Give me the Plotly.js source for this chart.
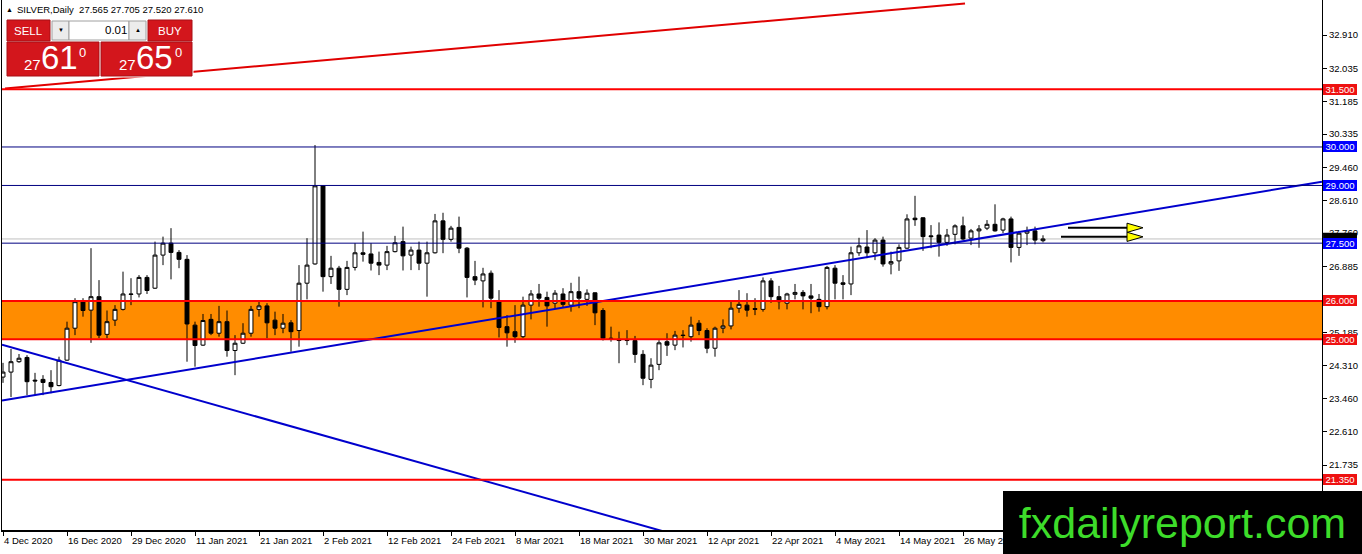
<!DOCTYPE html>
<html>
<head>
<meta charset="utf-8">
<script src="https://cdn.plot.ly/plotly-3.0.1.min.js"></script>
<style>html,body{margin:0;padding:0;background:#fff;}#chart{width:1362px;height:554px;}</style>
</head>
<body>
<div id="chart"></div>
<script>
// ---- data ----
const openP  = [24.02,24.15,24.42,24.53,23.94,23.96,23.88,23.80,24.46,25.29,26.00,25.76,26.11,25.13,25.50,25.78,26.18,26.18,26.61,26.33,27.19,27.50,27.26,27.08,25.37,24.85,25.52,25.16,25.46,24.71,24.90,25.16,25.78,25.87,25.50,25.29,25.43,25.23,26.46,26.96,28.99,26.63,26.85,26.30,26.87,27.25,27.22,27.00,26.93,27.28,27.54,27.19,27.32,26.98,27.25,28.08,27.60,27.91,27.37,26.63,26.52,26.72,26.01,25.33,25.20,25.07,25.89,26.18,26.09,25.94,26.18,25.89,26.24,26.04,26.21,25.75,25.03,25.00,24.98,24.97,24.61,23.96,24.35,24.94,24.85,25.11,25.07,25.42,25.23,24.77,25.29,25.35,25.81,25.89,25.80,25.78,26.52,26.11,25.94,26.17,26.22,26.13,26.04,25.85,26.85,26.47,26.44,27.25,27.40,27.25,27.58,26.96,27.04,27.37,28.15,28.16,27.69,27.71,27.52,27.73,27.95,27.63,27.82,27.89,27.99,27.84,28.13,27.39,27.76,27.82,27.565];
const highP  = [24.39,24.75,24.62,24.59,24.13,24.07,24.20,24.55,25.46,26.07,26.07,27.37,26.54,25.75,25.89,26.76,26.59,26.67,26.67,27.54,27.67,27.89,27.32,27.19,25.46,25.66,25.66,25.87,25.75,25.11,25.42,25.87,26.01,25.94,25.72,25.66,25.50,26.93,27.63,30.05,29.00,27.17,26.91,27.04,27.50,27.80,27.50,27.28,27.43,27.69,27.93,27.41,27.54,27.54,28.26,28.29,27.95,28.19,27.40,27.04,26.86,26.79,26.28,25.63,25.89,26.11,26.28,26.44,26.24,26.28,26.33,26.47,26.63,26.30,26.22,25.81,25.33,25.20,25.24,25.09,24.72,24.51,24.98,25.16,25.22,25.24,25.59,25.50,25.29,25.33,25.52,25.98,26.28,26.20,26.07,26.61,26.59,26.39,26.21,26.44,26.28,26.44,26.18,26.91,26.93,26.67,27.41,27.64,27.84,27.63,27.67,27.28,27.47,28.25,28.73,28.17,27.97,28.04,27.87,27.99,28.19,27.87,27.97,28.10,28.51,28.16,28.19,27.82,27.93,27.93,27.705];
const lowP   = [23.87,23.50,24.39,23.55,23.55,23.55,23.60,23.78,24.44,25.11,25.59,24.91,25.03,25.03,25.35,25.75,25.89,26.09,26.18,26.31,26.93,26.56,26.85,24.42,24.29,24.83,25.11,25.07,24.55,24.07,24.88,25.07,25.59,25.03,25.11,25.16,24.68,24.81,26.04,26.94,26.24,26.44,25.85,26.15,26.79,27.02,26.79,26.67,26.80,27.26,26.79,26.80,26.80,26.11,27.23,27.24,27.54,27.24,26.09,26.41,25.83,25.81,25.05,24.81,24.91,25.03,25.52,25.85,25.33,25.81,25.83,25.72,25.81,25.87,25.37,24.97,24.94,24.38,24.85,24.39,23.81,23.73,24.20,24.57,24.72,24.79,24.94,25.11,24.64,24.55,25.16,25.26,25.69,25.59,25.63,25.72,25.95,25.78,25.78,26.04,25.78,25.68,25.72,25.78,26.04,26.04,26.15,27.17,27.11,27.06,26.89,26.69,26.78,27.35,27.95,27.30,27.37,27.15,27.43,27.47,27.58,27.45,27.38,27.84,27.80,27.76,27.00,27.17,27.45,27.47,27.52];
const closeP = [24.15,24.42,24.51,23.90,23.92,23.88,23.77,24.46,25.29,25.98,25.75,26.11,25.11,25.46,25.78,26.18,26.17,26.61,26.27,27.19,27.50,27.26,27.08,25.40,24.84,25.49,25.16,25.46,24.71,24.90,25.16,25.78,25.87,25.43,25.29,25.42,25.20,26.46,26.93,28.99,26.63,26.85,26.30,26.87,27.25,27.21,26.98,26.93,27.28,27.51,27.17,27.32,26.98,27.25,28.08,27.60,27.89,27.37,26.61,26.54,26.70,26.07,25.31,25.17,25.07,25.89,26.18,26.07,25.87,26.20,25.91,26.24,26.07,26.20,25.69,25.03,25.02,24.97,24.97,24.61,23.99,24.33,24.91,24.85,25.11,25.10,25.37,25.23,24.77,25.29,25.35,25.81,25.91,25.76,25.78,26.52,26.11,25.98,26.18,26.22,26.13,26.07,25.85,26.87,26.46,26.43,27.25,27.43,27.25,27.58,26.96,27.02,27.39,28.13,28.11,27.67,27.67,27.52,27.71,27.95,27.61,27.82,27.87,27.99,27.82,28.13,27.39,27.76,27.82,27.58,27.61];

const dateLabels = ["4 Dec 2020","16 Dec 2020","29 Dec 2020","11 Jan 2021","21 Jan 2021","2 Feb 2021","12 Feb 2021","24 Feb 2021","8 Mar 2021","18 Mar 2021","30 Mar 2021","12 Apr 2021","22 Apr 2021","4 May 2021","14 May 2021","26 May 2021"];
const priceTicks = [32.910,32.035,31.185,30.335,29.460,28.610,27.760,26.885,25.185,24.310,23.460,22.610,21.735];

const redLevels  = [31.5, 26.0, 25.0, 21.35];
const navyLevels = [30.0, 29.0, 27.5];
const bandLow = 25.0, bandHigh = 26.0;
const bidPrice = 27.61;

const redTrendX  = [0.25, 120.25],   redTrendY  = [31.517, 33.73];
const blueUpX    = [-0.125, 164.875], blueUpY   = [23.41, 29.097];
const blueDownX  = [-0.125, 84.0],   blueDownY  = [24.86, 19.926];

const arrowTails  = [133.125, 132.25];
const arrowBases  = [140.5, 140.5];
const arrowTips   = [142.5, 142.5];
const arrowLevels = [27.90, 27.665];

const headerText = "SILVER,Daily  27.565 27.705 27.520 27.610";

// ---- geometry ----
const L = 2, W = 1320, H = 530;
const PX = x => (x - L) / W;
const PY = y => 1 - y / H;
const idx = openP.map((_, i) => i);
const tickIdx = dateLabels.map((_, k) => k * 8);
const FONT = "Liberation Sans, Arial, sans-serif";

const traces = [
  {type:'candlestick', x: idx, open: openP, high: highP, low: lowP, close: closeP,
   increasing:{line:{color:'#000', width:1}, fillcolor:'#fff'},
   decreasing:{line:{color:'#000', width:1}, fillcolor:'#000'},
   whiskerwidth:0, hoverinfo:'skip', showlegend:false},
  {type:'scatter', mode:'lines', x: redTrendX, y: redTrendY, line:{color:'#e00000', width:2}, hoverinfo:'skip'},
  {type:'scatter', mode:'lines', x: blueUpX, y: blueUpY, line:{color:'#0000cd', width:2}, hoverinfo:'skip'},
  {type:'scatter', mode:'lines', x: blueDownX, y: blueDownY, line:{color:'#0000cd', width:2}, hoverinfo:'skip'}
];

const shapes = [];
shapes.push({type:'rect', xref:'paper', yref:'y', x0:0, x1:1, y0:bandLow, y1:bandHigh, fillcolor:'#ff8c00', line:{width:0}, layer:'below'});
shapes.push({type:'line', xref:'paper', yref:'y', x0:0, x1:1, y0:bidPrice, y1:bidPrice, line:{color:'#c0c0c0', width:1}, layer:'below'});
navyLevels.forEach(v => shapes.push({type:'line', xref:'paper', yref:'y', x0:0, x1:1, y0:v, y1:v, line:{color:'#000080', width:1}}));
redLevels.forEach(v => shapes.push({type:'line', xref:'paper', yref:'y', x0:0, x1:1, y0:v, y1:v, line:{color:'#ff0000', width:2}}));
// current-price marker strip on the axis
shapes.push({type:'rect', xref:'paper', yref:'y', x0:1.0008, x1:1.0265, y0:bidPrice + 0.02, y1:bidPrice + 0.16, fillcolor:'#000', line:{width:0}, layer:'above'});
// arrows
const headHalf = 4.6 / 38.48;
arrowLevels.forEach((v, k) => {
  shapes.push({type:'line', xref:'x', yref:'y', x0:arrowTails[k], x1:arrowBases[k], y0:v, y1:v, line:{color:'#000', width:2}});
  shapes.push({type:'path', xref:'x', yref:'y',
    path:`M ${arrowBases[k]},${v+headHalf} L ${arrowTips[k]},${v} L ${arrowBases[k]},${v-headHalf} Z`,
    fillcolor:'#ffff00', line:{color:'#000', width:1}});
});
// trading panel
const red = '#d3161c';
function prect(x0,y0,x1,y1,fill,lc){shapes.push({type:'rect', xref:'paper', yref:'paper', x0:PX(x0), x1:PX(x1), y0:PY(y1), y1:PY(y0), fillcolor:fill, line:{color:lc||fill, width:1}, layer:'above'});}
prect(6,19,193,77,'#ffffff','#ffffff');
prect(7,20,50,41,red,'#a80f14');
prect(148,20,192,41,red,'#a80f14');
prect(52,21,69,40,'#ececec','#a0a0a0');
prect(69,21,129,40,'#ffffff','#a0a0a0');
prect(129,21,146,40,'#ececec','#a0a0a0');
prect(7,42,99,76,red,'#a80f14');
prect(101,42,192,76,red,'#a80f14');

const ann = [];
function txt(x,y,t,size,color,xa,ya,extra){ann.push(Object.assign({xref:'paper', yref:'paper', x:PX(x), y:PY(y), text:t, showarrow:false, xanchor:xa||'left', yanchor:ya||'middle', font:{family:FONT, size:size, color:color}, borderpad:0, borderwidth:0}, extra||{}));}
txt(6,10,'▲',7,'#000');
txt(17,10,headerText,9.5,'#000');
txt(28.5,31,'SELL',11.5,'#fff','center');
txt(170,31,'BUY',11.5,'#fff','center');
txt(60.5,30,'▼',6,'#000','center');
txt(137.5,30,'▲',6,'#000','center');
txt(127,30,'0.01',11.5,'#000','right');
txt(24,73,'27',15,'#fff','left','bottom');
txt(41,76,'61',33,'#fff','left','bottom');
txt(79,53,'0',13,'#fff','left');
txt(119,73,'27',15,'#fff','left','bottom');
txt(136,76,'65',33,'#fff','left','bottom');
txt(175,53,'0',13,'#fff','left');

dateLabels.forEach((d,k) => ann.push({xref:'x', yref:'paper', x:tickIdx[k], y:0, yshift:-5, text:d, showarrow:false, xanchor:'left', yanchor:'top', xshift:1, font:{family:FONT, size:9.5, color:'#000'}, borderpad:0, borderwidth:0}));
function lvl(v, bg){ann.push({xref:'paper', yref:'y', x:1, xshift:1, y:v, text:v.toFixed(3), showarrow:false, xanchor:'left', yanchor:'middle', bgcolor:bg, width:34, height:11, borderpad:0, borderwidth:0, font:{family:FONT, size:9.5, color:'#fff'}});}
redLevels.forEach(v => lvl(v, '#ee1111'));
navyLevels.forEach(v => lvl(v, '#0000ff'));
ann.push({xref:'paper', yref:'paper', x:PX(1003), y:PY(491), xanchor:'left', yanchor:'top', width:359, height:63, bgcolor:'#000', borderpad:0, borderwidth:0, text:'fxdailyreport.com', showarrow:false, align:'center', valign:'middle', font:{family:FONT, size:43, color:'#3ddc2a'}});

const layout = {
  width:1362, height:554,
  margin:{l:L, r:40, t:0, b:24, pad:0},
  paper_bgcolor:'#fff', plot_bgcolor:'#fff', showlegend:false,
  xaxis:{range:[-0.125, 164.875], rangeslider:{visible:false}, showgrid:false, zeroline:false,
         showline:true, linecolor:'#000', linewidth:2, tickmode:'array', tickvals:tickIdx, ticks:'outside', ticklen:4, tickcolor:'#000', showticklabels:false, fixedrange:true},
  yaxis:{side:'right', range:[20.046, 33.8196], showgrid:false, zeroline:false, showline:true, mirror:true, linecolor:'#000', linewidth:1,
         tickmode:'array', tickvals:priceTicks, ticktext:priceTicks.map(v=>v.toFixed(3)), ticks:'outside', ticklen:4, tickcolor:'#000',
         tickfont:{family:FONT, size:9.5, color:'#000'}, fixedrange:true},
  shapes:shapes, annotations:ann
};
Plotly.newPlot('chart', traces, layout, {staticPlot:true, displayModeBar:false});
</script>
</body>
</html>
